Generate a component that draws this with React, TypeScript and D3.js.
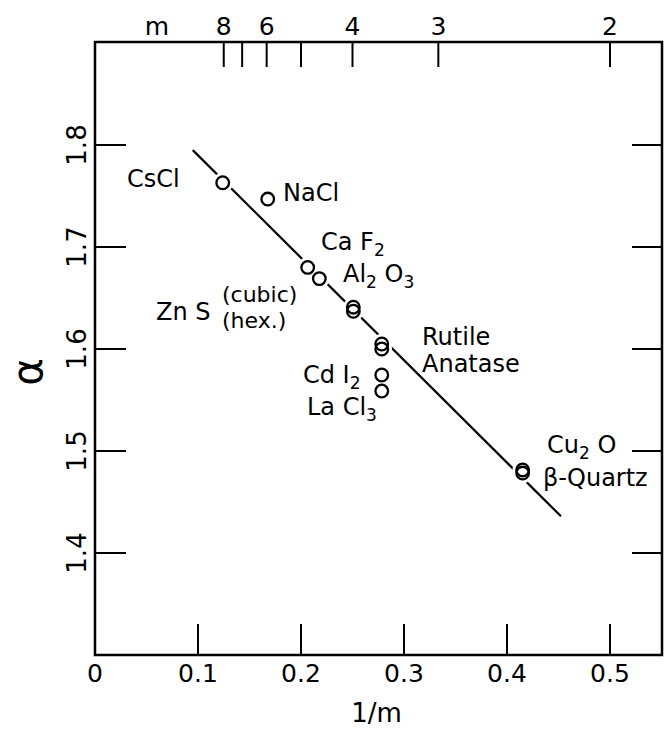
import React from "react";
import * as d3 from "d3";

// ---- data ----
const compounds = ["CsCl", "NaCl", "CaF2", "Al2O3", "ZnS cubic", "ZnS hex", "Rutile", "Anatase", "CdI2", "LaCl3", "Cu2O", "beta-Quartz"];
const invM = [0.124, 0.1677, 0.2065, 0.2178, 0.2508, 0.2508, 0.2784, 0.2784, 0.2784, 0.2784, 0.4152, 0.4152];
const alpha = [1.763, 1.747, 1.68, 1.669, 1.641, 1.637, 1.6049, 1.6, 1.5745, 1.5588, 1.4814, 1.4784];
const onLine = [true, false, true, true, true, true, true, true, false, false, true, true];

const fitX = [0.0949, 0.4524];
const fitY = [1.795, 1.436];

const bottomTicks = [0.1, 0.2, 0.3, 0.4, 0.5];
const bottomLabels = ["0", "0.1", "0.2", "0.3", "0.4", "0.5"];
const bottomLabelValues = [0, 0.1, 0.2, 0.3, 0.4, 0.5];
const yTicks = [1.4, 1.5, 1.6, 1.7, 1.8];
const yLabels = ["1.4", "1.5", "1.6", "1.7", "1.8"];
const topM = [8, 7, 6, 5, 4, 3, 2];
const topLabeledM = [8, 6, 4, 3, 2];

// annotation anchors in data units (1/m, alpha)
type Ann = { parts: [string, boolean][]; x: number; y: number; size?: number };
const annotations: Ann[] = [
  { parts: [["CsCl", false]], x: 0.0311, y: 1.7588 },
  { parts: [["NaCl", false]], x: 0.1825, y: 1.7451 },
  { parts: [["Ca F", false], ["2", true]], x: 0.2194, y: 1.6971 },
  { parts: [["Al", false], ["2", true], [" O", false], ["3", true]], x: 0.2408, y: 1.6657 },
  { parts: [["Zn S", false]], x: 0.0592, y: 1.6284 },
  { parts: [["(cubic)", false]], x: 0.1233, y: 1.6461, size: 22 },
  { parts: [["(hex.)", false]], x: 0.1233, y: 1.6206, size: 22 },
  { parts: [["Rutile", false]], x: 0.3175, y: 1.6039 },
  { parts: [["Anatase", false]], x: 0.3175, y: 1.5775 },
  { parts: [["Cd I", false], ["2", true]], x: 0.2019, y: 1.5667 },
  { parts: [["La Cl", false], ["3", true]], x: 0.2058, y: 1.5353 },
  { parts: [["Cu", false], ["2", true], [" O", false]], x: 0.4388, y: 1.498 },
  { parts: [["β-Quartz", false]], x: 0.435, y: 1.4657 },
];

const W = 665;
const H = 735;
const left = 95;
const right = 662;
const top = 42;
const bottom = 655;
const FONT = "'DejaVu Sans', sans-serif";

export default function App() {
  const x = d3.scaleLinear().domain([0, (right - left) / 1030]).range([left, right]);
  const y = d3.scaleLinear().domain([1.3, 1.3 + (bottom - top) / 1020]).range([bottom, top]);
  const line = d3.line<number>().x((_, i) => x(fitX[i])).y((_, i) => y(fitY[i]));
  const stroke = "#000";
  const r = 6.3;

  return (
    <svg width={W} height={H} style={{ position: "absolute", left: 0, top: 0, background: "#fff" }} fontFamily={FONT}>
      <rect x={0} y={0} width={W} height={H} fill="#fff" />
      {/* frame */}
      <rect x={left} y={top} width={right - left} height={bottom - top} fill="none" stroke={stroke} strokeWidth={2.5} />
      {/* bottom ticks */}
      {bottomTicks.map((t) => (
        <line key={"bt" + t} x1={x(t)} x2={x(t)} y1={bottom} y2={bottom - 31} stroke={stroke} strokeWidth={2} />
      ))}
      {bottomLabelValues.map((t, i) => (
        <text key={"bl" + t} x={x(t)} y={bottom + 27} fontSize={25} textAnchor="middle">{bottomLabels[i]}</text>
      ))}
      <text x={(left + right) / 2 - 2} y={722} fontSize={26} textAnchor="middle">1/m</text>
      {/* top ticks */}
      {topM.map((m) => (
        <line key={"tt" + m} x1={x(1 / m)} x2={x(1 / m)} y1={top} y2={top + 25} stroke={stroke} strokeWidth={2} />
      ))}
      {topLabeledM.map((m) => (
        <text key={"tl" + m} x={x(1 / m)} y={35} fontSize={25} textAnchor="middle">{m}</text>
      ))}
      <text x={157} y={35} fontSize={25} textAnchor="middle">m</text>
      {/* y ticks */}
      {yTicks.map((t) => (
        <g key={"yt" + t}>
          <line x1={left} x2={left + 31} y1={y(t)} y2={y(t)} stroke={stroke} strokeWidth={2} />
          <line x1={right} x2={right - 30} y1={y(t)} y2={y(t)} stroke={stroke} strokeWidth={2} />
        </g>
      ))}
      {yTicks.map((t, i) => (
        <text key={"yl" + t} transform={`translate(86,${y(t)}) rotate(-90)`} fontSize={26} textAnchor="middle">{yLabels[i]}</text>
      ))}
      <text transform={`translate(42,372) rotate(-90)`} fontSize={42} textAnchor="middle">α</text>
      {/* fit line */}
      <path d={line([0, 1]) || ""} fill="none" stroke={stroke} strokeWidth={2.2} />
      {/* halos for points on the line */}
      {invM.map((v, i) =>
        onLine[i] ? <circle key={"h" + i} cx={x(v)} cy={y(alpha[i])} r={r + 4} fill="#fff" /> : null
      )}
      {invM.map((v, i) => (
        <circle key={"c" + i} cx={x(v)} cy={y(alpha[i])} r={r} fill="none" stroke={stroke} strokeWidth={2.3}>
          <title>{compounds[i]}</title>
        </circle>
      ))}
      {/* annotations */}
      {annotations.map((a, i) => {
        const base = a.size || 24;
        return (
          <text key={"a" + i} x={x(a.x)} y={y(a.y)} fontSize={base}>
            {a.parts.map(([s, sub], j) => (
              <tspan key={j} fontSize={sub ? 17 : base} dy={sub ? 6 : (j > 0 && a.parts[j - 1][1] ? -6 : 0)}>{s}</tspan>
            ))}
          </text>
        );
      })}
    </svg>
  );
}
